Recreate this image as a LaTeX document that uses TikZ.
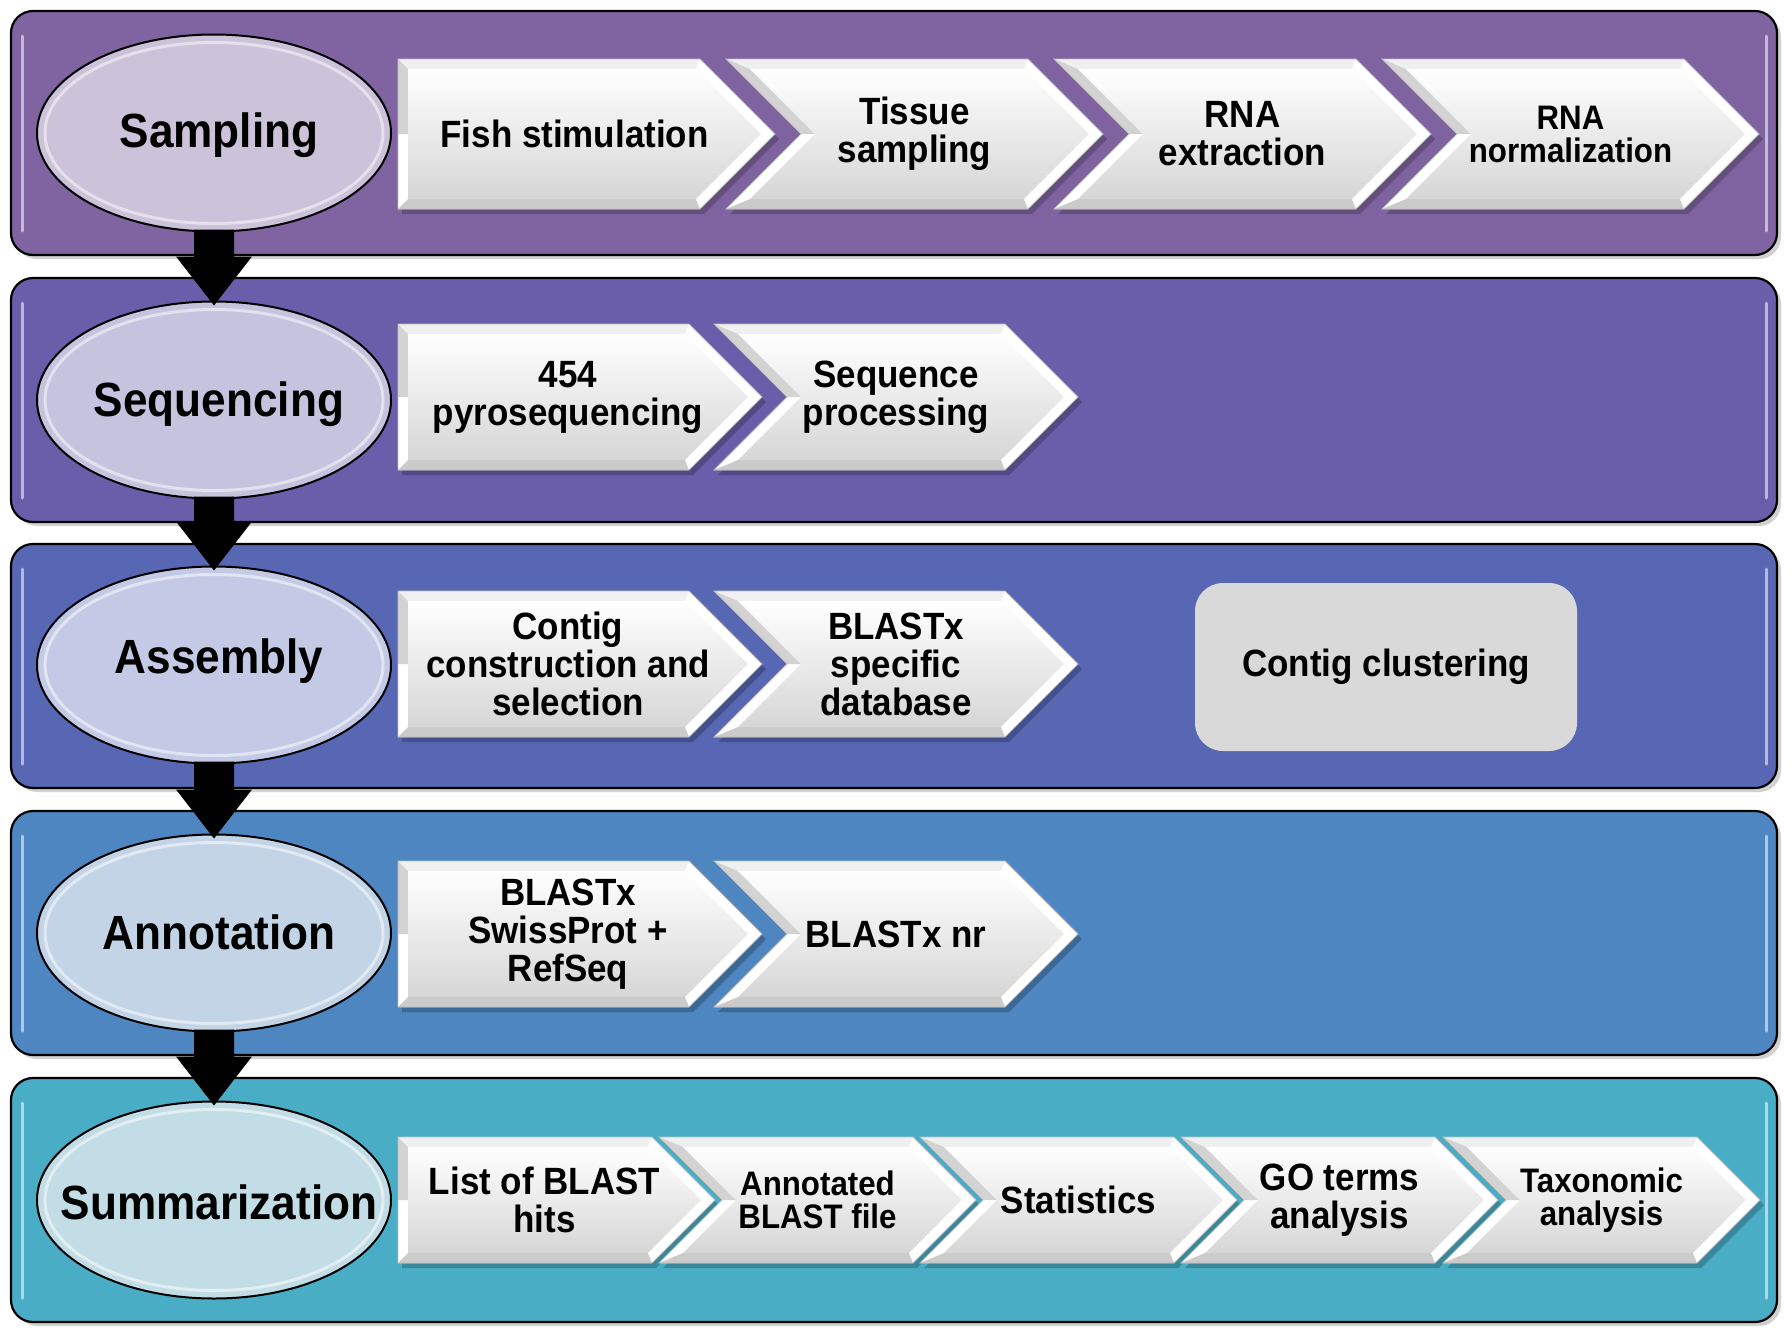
\documentclass[tikz,border=0pt]{standalone}
\usepackage{fontspec}
\setmainfont{Liberation Sans}[FakeStretch=0.92]
\usetikzlibrary{shapes.geometric,calc}
\definecolor{pA}{HTML}{8064A2}
\definecolor{pB}{HTML}{6A5DAA}
\definecolor{pC}{HTML}{5767B4}
\definecolor{pD}{HTML}{4E86C1}
\definecolor{pE}{HTML}{4AADC6}
\definecolor{eA}{HTML}{CCC2DA}
\definecolor{eB}{HTML}{C6C3DE}
\definecolor{eC}{HTML}{C4CAE5}
\definecolor{eD}{HTML}{C4D4E7}
\definecolor{eE}{HTML}{C3DDE6}
\definecolor{chevbot}{HTML}{D6D6D6}
\definecolor{facetdark}{HTML}{CBCBCB}
\definecolor{facetmid}{HTML}{D3D3D3}
\definecolor{facetlight}{HTML}{F0F0F0}
\definecolor{boxgray}{HTML}{D9D9D9}
\tikzset{
 panel/.style={draw=black, line width=2.2pt, rounded corners=22pt},
 panelshadow/.style={fill=black, opacity=0.18, rounded corners=22pt},
 gloss/.style={draw=white, opacity=0.55, line width=3pt, line cap=round},
 ell/.style={ellipse, draw=black, line width=2pt, minimum width=354pt, minimum height=197pt, inner sep=0pt},
 ellgloss/.style={ellipse, draw=white, opacity=0.5, line width=3pt, minimum width=338pt, minimum height=181pt, inner sep=0pt},
 etext/.style={font=\bfseries\fontsize{48}{48}\selectfont, inner sep=0pt},
 ctext/.style={font=\bfseries\fontsize{38}{38}\selectfont, align=center, inner sep=0pt},
 stext/.style={font=\bfseries\fontsize{34}{33}\selectfont, align=center, inner sep=0pt},
 chevouter/.style={fill=white},
 chevinner/.style={top color=white, bottom color=chevbot},
 chevshadow/.style={fill=black, opacity=0.22},
 blockarrow/.style={fill=black},
}
% #1 name, #2 left x, #3 center y, #4 width, #5 height, #6 notch(0/1), #7 text style, #8 text
\newcommand\chev[8]{%
 \pgfmathsetmacro\ctop{#3-#5/2}%
 \pgfmathsetmacro\cbot{#3+#5/2}%
 \pgfmathsetmacro\cdd{#5/2}%
 \pgfmathsetmacro\crr{#2+#4}%
 \pgfmathsetmacro\crb{#2+#4-\cdd}%
 \pgfmathsetmacro\cnn{#2+#6*\cdd}%
 \pgfmathsetmacro\ctx{#2+#4/2-(1-#6)*12}%
 \pgfmathsetmacro\itop{\ctop+10}%
 \pgfmathsetmacro\ibot{\cbot-10}%
 \pgfmathsetmacro\irb{\crb-4.14}%
 \pgfmathsetmacro\irr{\crr-14.14}%
 \pgfmathsetmacro\ilt{#2+10+#6*14.14}%
 \pgfmathsetmacro\iln{\cnn+10+#6*4.14}%
 \fill[chevshadow, shift={(4,5)}] (#2,\ctop) -- (\crb,\ctop) -- (\crr,#3) -- (\crb,\cbot) -- (#2,\cbot) -- (\cnn,#3) -- cycle;
 \fill[chevouter] (#2,\ctop) -- (\crb,\ctop) -- (\crr,#3) -- (\crb,\cbot) -- (#2,\cbot) -- (\cnn,#3) -- cycle;
 \fill[facetlight] (#2,\ctop) -- (\crb,\ctop) -- (\irb,\itop) -- (\ilt,\itop) -- cycle;
 \fill[facetdark] (#2,\cbot) -- (\crb,\cbot) -- (\irb,\ibot) -- (\ilt,\ibot) -- cycle;
 \fill[facetmid] (#2,\ctop) -- (\cnn,#3) -- (\iln,#3) -- (\ilt,\itop) -- cycle;
 \shade[chevinner] (\ilt,\itop) -- (\irb,\itop) -- (\irr,#3) -- (\irb,\ibot) -- (\ilt,\ibot) -- (\iln,#3) -- cycle;
 \draw[gray!50, line width=0.8pt] (#2,\ctop) -- (\crb,\ctop) -- (\crr,#3) -- (\crb,\cbot) -- (#2,\cbot) -- (\cnn,#3) -- cycle;
 \node[#7] (#1) at (\ctx,#3) {#8};
}
\begin{document}
\begin{tikzpicture}[x=1pt,y=-1pt]
\useasboundingbox (0,0) rectangle (1792,1339);
\fill[white] (0,0) rectangle (1792,1339);
% panels
\foreach \pt/\pc in {11/pA,278/pB,544/pC,811/pD,1078/pE}{
 \fill[panelshadow] (15,\pt+4) rectangle (1781,\pt+248);
 \draw[panel, fill=\pc] (11,\pt) rectangle (1777,\pt+244);
 \draw[gloss] (22,\pt+25) -- (22,\pt+220);
 \draw[gloss] (1766,\pt+25) -- (1766,\pt+220);
}
% ellipses
\node[ell, fill=eA] (e1) at (214,133) {};
\node[ellgloss] (g1) at (e1) {};
\node[etext] (t1) at (219,135) {Sampling};
\node[ell, fill=eB] (e2) at (214,400) {};
\node[ellgloss] (g2) at (e2) {};
\node[etext] (t2) at (219,404) {Sequencing};
\node[ell, fill=eC] (e3) at (214,665) {};
\node[ellgloss] (g3) at (e3) {};
\node[etext] (t3) at (219,661) {Assembly};
\node[ell, fill=eD] (e4) at (214,933) {};
\node[ellgloss] (g4) at (e4) {};
\node[etext] (t4) at (219,932) {Annotation};
\node[ell, fill=eE] (e5) at (214,1200) {};
\node[ellgloss] (g5) at (e5) {};
\node[etext] (t5) at (219,1202) {Summarization};
% row 1
\chev{c11}{398}{134}{377}{150}{0}{ctext}{Fish stimulation}
\chev{c12}{726}{134}{377}{150}{1}{ctext}{Tissue\\sampling}
\chev{c13}{1054}{134}{377}{150}{1}{ctext}{RNA\\extraction}
\chev{c14}{1382}{134}{377}{150}{1}{stext}{RNA\\normalization}
% row 2
\chev{c21}{398}{397}{364}{146}{0}{ctext}{454\\pyrosequencing}
\chev{c22}{714}{397}{364}{146}{1}{ctext}{Sequence\\processing}
% row 3
\chev{c31}{398}{664}{364}{146}{0}{ctext}{Contig\\construction and\\selection}
\chev{c32}{714}{664}{364}{146}{1}{ctext}{BLASTx\\specific\\database}
\node[fill=boxgray, rounded corners=28pt, minimum width=382pt, minimum height=168pt, ctext] (cc) at (1386,667) {Contig clustering};
% row 4
\chev{c41}{398}{934}{364}{146}{0}{ctext}{BLASTx\\SwissProt +\\RefSeq}
\chev{c42}{714}{934}{364}{146}{1}{ctext}{BLASTx nr}
% row 5
\chev{c51}{398}{1200}{317}{126}{0}{ctext}{List of BLAST\\hits}
\chev{c52}{659}{1200}{317}{126}{1}{stext}{Annotated\\BLAST file}
\chev{c53}{920}{1200}{317}{126}{1}{ctext}{Statistics}
\chev{c54}{1181}{1200}{317}{126}{1}{ctext}{GO terms\\analysis}
\chev{c55}{1443}{1200}{317}{126}{1}{stext}{Taxonomic\\analysis}
% block arrows
\foreach \a/\b in {e1/e2,e2/e3,e3/e4,e4/e5}{
 \fill[blockarrow] let \p1=(\a.south), \p2=(\b.north) in
  (\x1-20pt,\y1+3pt) -- (\x1+20pt,\y1+3pt) -- (\x1+20pt,\y2+44pt) -- (\x1+38pt,\y2+44pt)
  -- (\x1,\y2-5pt) -- (\x1-38pt,\y2+44pt) -- (\x1-20pt,\y2+44pt) -- cycle;
}
\end{tikzpicture}
\end{document}
